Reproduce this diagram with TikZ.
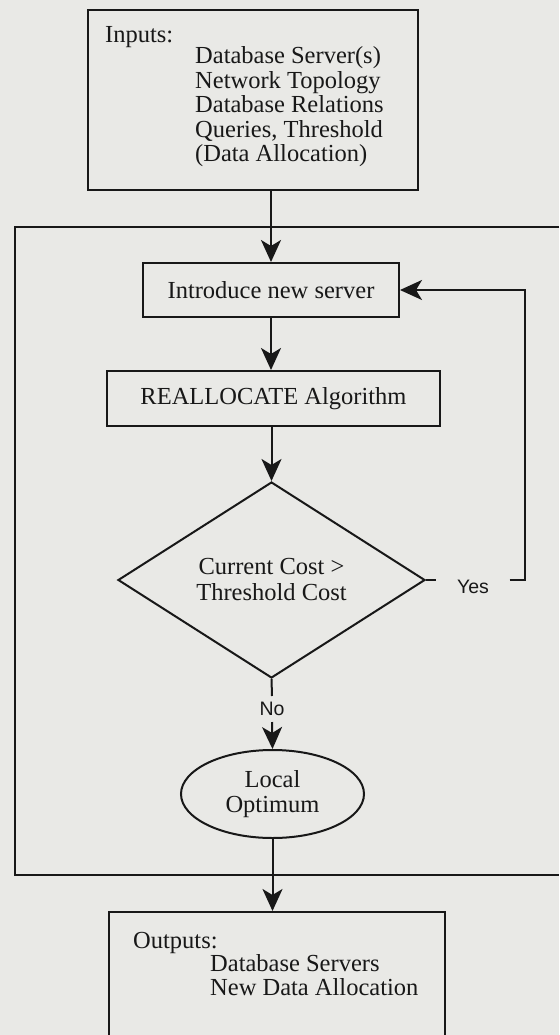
\documentclass[tikz,border=0pt]{standalone}
\usepackage{fontspec}
\setmainfont{Liberation Serif}
\newfontfamily\answerfont{Liberation Sans}
\usetikzlibrary{shapes.geometric,arrows.meta}
\definecolor{paper}{RGB}{233,233,230}
\definecolor{ink}{RGB}{24,24,24}
\tikzset{
    conn/.style={draw=ink, line width=2pt},
    flow/.style={conn, -{Stealth[length=22pt,width=20pt,inset=6pt]}},
    box/.style={conn, rectangle, inner sep=0pt, text=ink},
    txt/.style={inner sep=0pt, anchor=base west, text=ink},
    answer/.style={font=\answerfont\fontsize{19.5}{22}\selectfont, text=ink},
}
\begin{document}
\begin{tikzpicture}[x=1pt, y=-1pt, font=\fontsize{24.5}{24.5}\selectfont]
    \fill[paper] (0,0) rectangle (559,1035);
    \useasboundingbox (0,0) rectangle (559,1035);

    \node[box, minimum width=330pt, minimum height=180pt] (inputs) at (253,100) {};
    \node[txt] (intitle) at (105,43) {Inputs:};
    \foreach \item [count=\i] in {Database Server(s), Network Topology, Database Relations, {Queries, Threshold}, (Data Allocation)}
        \node[txt] (in\i) at (195,39.5+24.5*\i) {\item};

    % outer loop frame, open to the right
    \draw[conn] (559,227) -- (15,227) -- (15,875) -- (559,875);

    \node[box, minimum width=256pt, minimum height=54pt] (intro) at (271,290) {Introduce new server};
    \node[box, minimum width=333pt, minimum height=55pt] (realloc) at (273.5,398.5) {REALLOCATE Algorithm};
    \node[conn, diamond, minimum width=307pt, minimum height=196pt, aspect=1.57, inner sep=0pt, align=center, text=ink,
          font=\fontsize{24.5}{26}\selectfont] (cond) at (271.5,580) {Current Cost >\\Threshold Cost};
    \node[conn, ellipse, minimum width=183pt, minimum height=88pt, inner sep=0pt, align=center, text=ink] (opt) at (272.5,794) {Local\\Optimum};

    \node[box, minimum width=336pt, minimum height=133pt] (outputs) at (277,978.5) {};
    \node[txt] (outtitle) at (133,948) {Outputs:};
    \node[txt] (out1) at (210,971) {Database Servers};
    \node[txt] (out2) at (210,995.5) {New Data Allocation};

    \node[answer, inner xsep=20.5pt, inner ysep=0pt] (yes) at (473,587) {Yes};
    \node[answer, inner xsep=0pt, inner ysep=6pt] (no) at (272,709) {No};
    \coordinate (turn) at (525,580);

    \draw[flow] (intro.north |- inputs.south) -- (intro.north);
    \draw[flow] (intro.south) -- (intro.south |- realloc.north);
    \draw[flow] (cond.north |- realloc.south) -- (cond.north);
    \draw[conn] (cond.east) -- (cond.east -| yes.west);
    \draw[flow] (cond.east -| yes.east) -- (turn) |- (intro.east);
    \draw[conn] (cond.south) -- (no.north);
    \draw[flow] (no.south) -- (opt.north);
    \draw[flow] (opt.south) -- (opt.south |- outputs.north);

\end{tikzpicture}
\end{document}
